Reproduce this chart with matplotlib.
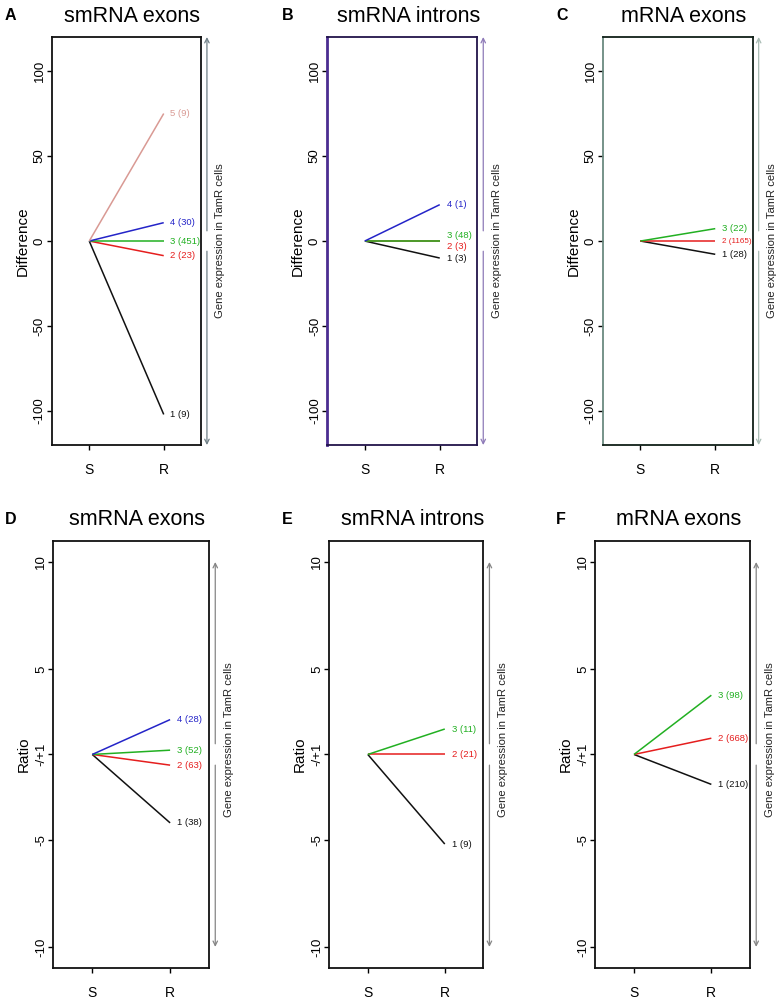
import matplotlib
matplotlib.use("Agg")
import matplotlib.pyplot as plt

plt.rcParams['font.family'] = ['Liberation Sans', 'DejaVu Sans']

# ---------------- data ----------------
conditions = ["S", "R"]

# Top row: difference (R - S)
A_title = "smRNA exons"
A_clusters = ["1", "2", "3", "4", "5"]
A_counts = [9, 23, 451, 30, 9]
A_diff = [-102, -8.6, 0, 10.8, 75]

B_title = "smRNA introns"
B_clusters = ["1", "2", "3", "4"]
B_counts = [3, 3, 48, 1]
B_diff = [-10, 0, 0, 21.4]

C_title = "mRNA exons"
C_clusters = ["1", "2", "3"]
C_counts = [28, 1165, 22]
C_diff = [-7.8, 0, 7.3]

# Bottom row: ratio (-/+1 centred)
D_title = "smRNA exons"
D_clusters = ["1", "2", "3", "4"]
D_counts = [38, 63, 52, 28]
D_ratio = [-4.2, -1.5, 1.2, 2.63]

E_title = "smRNA introns"
E_clusters = ["1", "2", "3"]
E_counts = [9, 21, 11]
E_ratio = [-5.19, 1.0, 2.19]

F_title = "mRNA exons"
F_clusters = ["1", "2", "3"]
F_counts = [210, 668, 98]
F_ratio = [-2.4, 1.76, 3.77]

diff_ticks = [-100, -50, 0, 50, 100]
ratio_ticks = [-10, -5, 1, 5, 10]
ratio_ticklabels = ["-10", "-5", "-/+1", "5", "10"]

side_text = "Gene expression in TamR cells"

# ---------------- styles ----------------
cluster_colors = {"1": "#111111", "2": "#e51e1e", "3": "#22b022",
                  "4": "#2424c8", "5": "#d99a94"}


def ratio_to_axis(r):
    if r >= 1:
        return r - 1
    if r <= -1:
        return r + 1
    return 0.0


def spread(vals, gap):
    order = sorted(range(len(vals)), key=lambda i: vals[i])
    pos = [vals[i] for i in order]
    for _ in range(50):
        moved = False
        for k in range(len(pos) - 1):
            if pos[k + 1] - pos[k] < gap - 1e-9:
                d = (gap - (pos[k + 1] - pos[k])) / 2
                pos[k] -= d
                pos[k + 1] += d
                moved = True
        if not moved:
            break
    out = [0] * len(vals)
    for k, i in enumerate(order):
        out[i] = pos[k]
    return out


W, H = 782, 1001
fig = plt.figure(figsize=(W / 100, H / 100), dpi=100)

panels = [
    dict(letter="A", title=A_title, clusters=A_clusters, counts=A_counts, vals=A_diff,
         kind="diff", rect=[0.0665, 0.5554, 0.1905, 0.4076], letter_xy=(5, 15),
         spine="#111111", left_spine="#111111", left_lw=1.3, arrow="#6f7f86"),
    dict(letter="B", title=B_title, clusters=B_clusters, counts=B_counts, vals=B_diff,
         kind="diff", rect=[0.4185, 0.5554, 0.1918, 0.4076], letter_xy=(282, 15),
         spine="#22144a", left_spine="#4b2d91", left_lw=2.0, arrow="#8e7ab8"),
    dict(letter="C", title=C_title, clusters=C_clusters, counts=C_counts, vals=C_diff,
         kind="diff", rect=[0.7711, 0.5554, 0.1914, 0.4076], letter_xy=(556, 15),
         spine="#102018", left_spine="#6b8a80", left_lw=1.3, arrow="#a8bcb4"),
    dict(letter="D", title=D_title, clusters=D_clusters, counts=D_counts, vals=D_ratio,
         kind="ratio", rect=[0.0682, 0.0327, 0.1991, 0.4272], letter_xy=(5, 520),
         spine="#111111", left_spine="#111111", left_lw=1.3, arrow="#858585"),
    dict(letter="E", title=E_title, clusters=E_clusters, counts=E_counts, vals=E_ratio,
         kind="ratio", rect=[0.4211, 0.0327, 0.1969, 0.4272], letter_xy=(282, 520),
         spine="#111111", left_spine="#111111", left_lw=1.3, arrow="#858585"),
    dict(letter="F", title=F_title, clusters=F_clusters, counts=F_counts, vals=F_ratio,
         kind="ratio", rect=[0.7613, 0.0327, 0.1978, 0.4272], letter_xy=(556, 520),
         spine="#111111", left_spine="#111111", left_lw=1.3, arrow="#858585"),
]

for p in panels:
    ax = fig.add_axes(p["rect"])
    ax.set_xlim(0.5, 2.5)
    if p["kind"] == "diff":
        lim = 120
        ends = list(p["vals"])
        start = 0.0
        ax.set_ylim(-lim, lim)
        ax.set_yticks(diff_ticks)
        ax.set_yticklabels([str(t) for t in diff_ticks])
        ax.set_ylabel("Difference", fontsize=11)
        arrow_span = (6, 120)
        text_y = 0
    else:
        lim = 10
        ends = [ratio_to_axis(v) for v in p["vals"]]
        start = ratio_to_axis(1)
        ax.set_ylim(-lim, lim)
        ax.set_yticks([ratio_to_axis(t) for t in ratio_ticks])
        ax.set_yticklabels(ratio_ticklabels)
        ax.set_ylabel("Ratio", fontsize=11)
        arrow_span = (0.5, 9)
        text_y = 0.7

    xs = [1, 2]
    for cl, e in zip(p["clusters"], ends):
        ax.plot(xs, [start, e], color=cluster_colors[cl], lw=1.1, solid_capstyle="butt")

    label_y = spread(ends, 0.027 * 2 * lim)
    for cl, n, ly in zip(p["clusters"], p["counts"], label_y):
        fs = 5.8 if n >= 1000 else 6.8
        ax.text(2.09, ly, f"{cl} ({n})", color=cluster_colors[cl], fontsize=fs,
                ha="left", va="center", clip_on=False)

    ax.set_xticks(xs)
    ax.set_xticklabels(conditions)
    ax.tick_params(axis="x", length=3.6, width=1, pad=9.5, labelsize=10, direction="out")
    ax.tick_params(axis="y", length=3.6, width=1, pad=1.0, labelsize=9.5, direction="out")
    for lab in ax.get_yticklabels():
        lab.set_rotation(90)
        lab.set_va("center")
    ax.yaxis.set_label_coords(-0.148, 0.5)

    for side in ["top", "right", "bottom"]:
        ax.spines[side].set_color(p["spine"])
        ax.spines[side].set_linewidth(1.3)
    ax.spines["left"].set_color(p["left_spine"])
    ax.spines["left"].set_linewidth(p["left_lw"])

    ax_x = 2.58
    lo, hi = arrow_span
    for a, b in [(lo, hi), (-lo, -hi)]:
        ax.annotate("", xy=(ax_x, b), xytext=(ax_x, a), xycoords="data",
                    arrowprops=dict(arrowstyle="->", color=p["arrow"], lw=0.9,
                                    shrinkA=0, shrinkB=0, mutation_scale=8),
                    annotation_clip=False)
    ax.text(2.76, text_y, side_text, rotation=90, ha="center", va="center",
            fontsize=8.1, color="#222222", clip_on=False)

    ax.set_title(p["title"], fontsize=15.5, x=0.54, pad=11)
    lx, ly = p["letter_xy"]
    fig.text(lx / W, 1 - ly / H, p["letter"], fontsize=11.5, fontweight="bold",
             ha="left", va="center")

fig.savefig("out.png", dpi=100)
